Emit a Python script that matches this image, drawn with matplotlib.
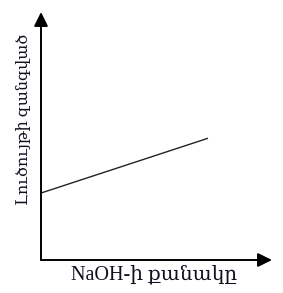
import matplotlib
matplotlib.use("Agg")
import matplotlib.pyplot as plt

# data
naoh_amount = [0.0, 7.2]
solution_value = [2.7, 4.9]
x_label = "NaOH-ի քանակը"
y_label = "Լուծույթի զանգված"

W, H = 283, 293
fig = plt.figure(figsize=(W / 100, H / 100), dpi=100)
ax = fig.add_axes([41 / W, (H - 260) / H, 231 / W, 248 / H])
ax.set_xlim(0, 10)
ax.set_ylim(0, 10)
for s in ax.spines.values():
    s.set_visible(False)
ax.set_xticks([])
ax.set_yticks([])

ax.plot(naoh_amount, solution_value, color="#222222", lw=1.0)

arrow = dict(arrowstyle="-|>,head_length=0.85,head_width=0.42", color="black", lw=1.4, shrinkA=0, shrinkB=0)
ax.annotate("", xy=(1, 0), xytext=(0, 0), xycoords="axes fraction",
            textcoords="axes fraction", arrowprops=arrow, annotation_clip=False)
ax.annotate("", xy=(0, 1), xytext=(0, 0), xycoords="axes fraction",
            textcoords="axes fraction", arrowprops=arrow, annotation_clip=False)

fam = ["Liberation Serif", "DejaVu Serif"]
fig.text(154 / W, 1 - 279 / H, x_label, ha="center", va="baseline",
         fontsize=14.5, family=fam, color="#101020")
fig.text(24 / W, 1 - 119 / H, y_label, ha="center", va="center",
         rotation=90, fontsize=11.5, family=fam, color="#101020")

fig.savefig("out.png", dpi=100)
